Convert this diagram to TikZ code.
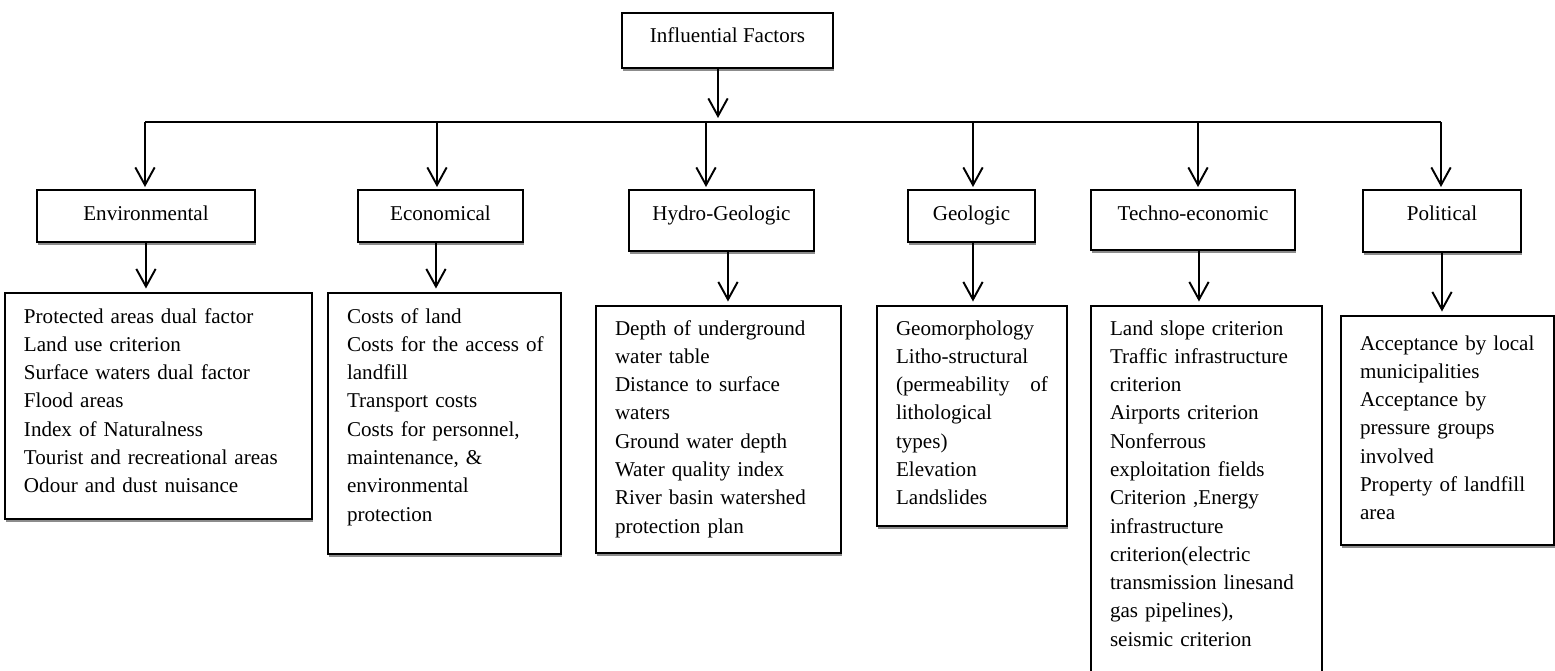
\documentclass[tikz,border=0pt]{standalone}
\usepackage{fontspec}
\setmainfont{Liberation Serif}
\usetikzlibrary{positioning}
\usetikzlibrary{arrows.meta,shadows,calc}
\newcommand{\boxrule}{1.1pt}
\newcommand{\rowskip}{16.1pt}

\begin{document}
\begin{tikzpicture}[x=0.02cm, y=-0.02cm, outer sep=0pt]
\tikzstyle{factor}=[
                  draw=black,
                  line width=\boxrule,
                  rectangle,
                  fill=white,
                  anchor=north west,
                  inner sep=0pt,
                  align=center,
                  font=\fontsize{12pt}{\rowskip}\selectfont,
                  drop shadow={shadow xshift=0.6pt,shadow yshift=-1.8pt,fill=black!45,opacity=1}]

\tikzstyle{detail}=[
                  factor,
                  align=left,
                  inner xsep=0.38cm]

\tikzstyle{wire}=[line width=\boxrule]
\tikzstyle{arr}=[wire, -{Straight Barb[length=10pt,width=11pt]}]

\useasboundingbox (0,0) rectangle (1555,670);

\node[factor] (top) at (622,13) [minimum width=4.22cm, text height=0.6cm, text depth=0.5cm] {Influential Factors};

\node[factor] (env)   at (37,190)   [minimum width=4.36cm, text height=0.62cm, text depth=0.42cm] {Environmental};
\node[factor] (econ)  at (358,190)  [minimum width=3.3cm,  text height=0.62cm, text depth=0.42cm] {Economical};
\node[factor] (hydro) at (629,190)  [minimum width=3.7cm,  text height=0.62cm, text depth=0.6cm]  {Hydro-Geologic};
\node[factor] (geo)   at (908,190)  [minimum width=2.54cm, text height=0.62cm, text depth=0.42cm] {Geologic};
\node[factor] (tech)  at (1091,190) [minimum width=4.08cm, text height=0.62cm, text depth=0.58cm] {Techno-economic};
\node[factor] (pol)   at (1363,190) [minimum width=3.16cm, text height=0.62cm, text depth=0.62cm] {Political};

\node[detail] (envd) at (5,293) [text width=5.38cm, text height=0.6cm, text depth=3.92cm]
  {Protected areas dual factor\\ Land use criterion\\ Surface waters dual factor\\ Flood areas\\
   Index of Naturalness\\ Tourist and recreational areas\\ Odour and dust nuisance};
\node[detail] (econd) at (328,293) [text width=3.9cm, text height=0.6cm, text depth=4.62cm]
  {Costs of land\\ \mbox{Costs for the access of}\\ landfill\\ Transport costs\\ Costs for personnel,\\
   maintenance, \&\\ environmental\\ protection};
\node[detail] (hydrod) at (596,306) [text width=4.14cm, text height=0.58cm, text depth=4.36cm]
  {Depth of underground\\ water table\\ Distance to surface\\ waters\\ Ground water depth\\
   Water quality index\\ River basin watershed\\ protection plan};
\node[detail] (geod) at (877,306) [text width=3.04cm, text height=0.58cm, text depth=3.82cm]
  {Geomorphology\\ Litho-structural\\ (permeability\hfill of\\ lithological\\ types)\\ Elevation\\ Landslides};
\node[detail] (techd) at (1091,306) [text width=3.86cm, text height=0.58cm, text depth=7.3cm]
  {Land slope criterion\\ Traffic infrastructure\\ criterion\\ Airports criterion\\ Nonferrous\\
   exploitation fields\\ Criterion ,Energy\\ infrastructure\\ criterion(electric\\
   transmission linesand\\ gas pipelines),\\ seismic criterion};
\node[detail] (pold) at (1341,316) [text width=3.5cm, text height=0.68cm, text depth=3.9cm]
  {Acceptance by local\\ municipalities\\ Acceptance by\\ pressure groups\\ involved\\
   Property of landfill\\ area};

% bus between the two levels
\coordinate (c0) at (718,122);
\coordinate (b1) at (145,122);
\coordinate (b2) at (437,122);
\coordinate (b3) at (706,122);
\coordinate (b4) at (973,122);
\coordinate (b5) at (1198,122);
\coordinate (b6) at (1441,122);

\draw [arr, shorten >=0.08cm] (c0 |- top.south) -- (c0);
\draw [wire] (b1) -- (b6);

\draw [arr, shorten >=0.06cm] (b1) -- (b1 |- env.north);
\draw [arr, shorten >=0.06cm] (b2) -- (b2 |- econ.north);
\draw [arr, shorten >=0.06cm] (b3) -- (b3 |- hydro.north);
\draw [arr, shorten >=0.06cm] (b4) -- (b4 |- geo.north);
\draw [arr, shorten >=0.06cm] (b5) -- (b5 |- tech.north);
\draw [arr, shorten >=0.06cm] (b6) -- (b6 |- pol.north);

\draw [arr, shorten >=0.09cm] (env.south) -- (env.south |- envd.north);
\draw [arr, shorten >=0.09cm] (econ.south) ++(-4.5,0) coordinate (e0) -- (e0 |- econd.north);
\draw [arr, shorten >=0.09cm] (hydro.south) ++(6.5,0) coordinate (h0) -- (h0 |- hydrod.north);
\draw [arr, shorten >=0.09cm] (geo.south) ++(1.5,0) coordinate (g0) -- (g0 |- geod.north);
\draw [arr, shorten >=0.09cm] (tech.south) ++(6,0) coordinate (t0) -- (t0 |- techd.north);
\draw [arr, shorten >=0.09cm] (pol.south) -- (pol.south |- pold.north);

\end{tikzpicture}
\end{document}
